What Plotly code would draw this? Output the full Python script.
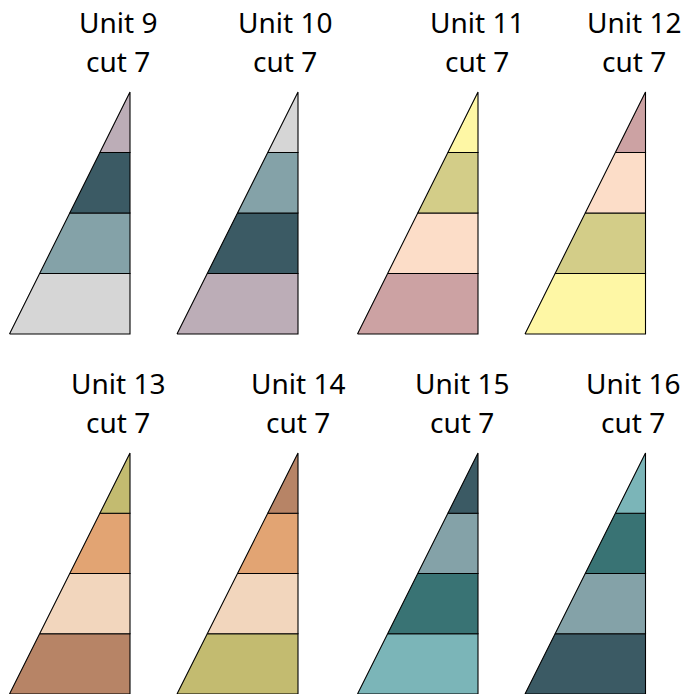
import plotly.graph_objects as go

# ---- data ----
units = ["Unit 9", "Unit 10", "Unit 11", "Unit 12",
         "Unit 13", "Unit 14", "Unit 15", "Unit 16"]
cuts = ["cut 7"] * 8
band_sizes = [1, 1, 1, 1]  # four equal bands, listed bottom to top

MAUVE = "#BCADB7"
SLATE = "#3B5A64"
GREYTEAL = "#84A2A8"
LGREY = "#D6D6D6"
PYELLOW = "#FEF7A5"
KHAKI = "#D3CD88"
PEACH = "#FCDDC8"
ROSE = "#CCA2A3"
OLIVE = "#C3BB70"
ORANGE = "#E2A473"
LPEACH = "#F2D6BD"
BROWN = "#B78466"
TEAL = "#397374"
LTEAL = "#7BB5B8"

# band colours, bottom to top
band_colors = [
    [LGREY, GREYTEAL, SLATE, MAUVE],
    [MAUVE, SLATE, GREYTEAL, LGREY],
    [ROSE, PEACH, KHAKI, PYELLOW],
    [PYELLOW, KHAKI, PEACH, ROSE],
    [BROWN, LPEACH, ORANGE, OLIVE],
    [OLIVE, LPEACH, ORANGE, BROWN],
    [LTEAL, TEAL, GREYTEAL, SLATE],
    [SLATE, GREYTEAL, TEAL, LTEAL],
]

# ---- layout (pixel geometry of each panel) ----
W, H = 684, 694
col_px = [(9.5, 130), (177, 298), (357.5, 478), (525, 645.5)]
row_px = [(92, 334), (453, 694)]
title_x = [[118, 285, 476.5, 633.5], [118, 297.5, 462, 633]]
FONT = "Noto Sans, Open Sans, sans-serif"
FS = 28

fig = go.Figure()
total = sum(band_sizes)
pad = 3
annotations = []
for i, unit in enumerate(units):
    r, c = divmod(i, 4)
    L, R = col_px[c]
    T, B = row_px[r]
    xs = "x" if i == 0 else f"x{i+1}"
    ys = "y" if i == 0 else f"y{i+1}"
    y0 = 0
    for size, color in zip(band_sizes, band_colors[i]):
        y1 = y0 + size
        fig.add_trace(go.Scatter(
            x=[y0 / total, 1, 1, y1 / total, y0 / total],
            y=[y0, y0, y1, y1, y0],
            mode="lines", fill="toself", fillcolor=color,
            line=dict(color="black", width=1.1),
            hoverinfo="skip", showlegend=False,
            xaxis=xs, yaxis=ys,
        ))
        y0 = y1
    dl = max(0, (L - pad) / W)
    dr = min(1, (R + pad) / W)
    xr0 = -(L - dl * W) / (R - L)
    xr1 = 1 + (dr * W - R) / (R - L)
    db = max(0, 1 - (B + pad) / H)
    dt = min(1, 1 - (T - pad) / H)
    yr0 = -((1 - db) * H - B) / (B - T) * total
    yr1 = total + (T - (1 - dt) * H) / (B - T) * total
    axx = dict(domain=[dl, dr], range=[xr0, xr1], visible=False, fixedrange=True)
    axy = dict(domain=[db, dt], range=[yr0, yr1], visible=False, fixedrange=True)
    if i > 0:
        axx["anchor"] = ys
        axy["anchor"] = xs
    fig.update_layout(**{("xaxis" if i == 0 else f"xaxis{i+1}"): axx,
                         ("yaxis" if i == 0 else f"yaxis{i+1}"): axy})
    base1 = 33.3 + r * 361
    base2 = 71.7 + r * 361
    for txt, base in ((unit, base1), (cuts[i], base2)):
        annotations.append(dict(
            text=txt, xref="paper", yref="paper",
            x=title_x[r][c] / W, y=1 - (base + 0.25 * FS + 3) / H,
            xanchor="center", yanchor="bottom", showarrow=False,
            font=dict(family=FONT, size=FS, color="black"),
        ))

fig.update_layout(
    width=W, height=H,
    margin=dict(l=0, r=0, t=0, b=0),
    paper_bgcolor="white", plot_bgcolor="white",
    annotations=annotations,
    showlegend=False,
)
fig.write_html(
    "out.html",
    config={"displayModeBar": False, "staticPlot": True},
    post_script="document.body.style.margin='0';document.body.style.overflow='hidden';",
)
